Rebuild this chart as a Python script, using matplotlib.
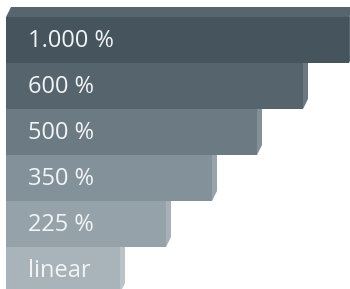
import matplotlib.pyplot as plt
from matplotlib.patches import Polygon

# bar labels, top to bottom
labels = ['1.000 %', '600 %', '500 %', '350 %', '225 %', 'linear']
# bar lengths as drawn (front face, in chart units)
lengths = [343, 297, 251, 206, 160, 114]
front_cols = ['#46545e', '#56646e', '#6c7a83', '#83929a', '#95a2aa', '#a8b3ba']
side_cols = ['#57656f', '#6b7880', '#849098', '#97a3aa', '#a6b0b6', '#bac3c8']

x0 = 6        # left edge of the bars
h = 46        # bar height
top0 = 17     # top of first bar
dx, dy = 5, 10  # depth of the 3D extrusion

fig = plt.figure(figsize=(3.5, 2.89), dpi=100)
ax = fig.add_axes([0, 0, 1, 1])
ax.set_xlim(0, 350)
ax.set_ylim(289, 0)
ax.axis('off')

tops = [top0 + i * h for i in range(len(lengths))]
n = len(lengths)
for i, (lab, L, fc, sc, t) in enumerate(zip(labels, lengths, front_cols, side_cols, tops)):
    z = 10 + (n - i) * 3
    right = x0 + L
    ax.barh(t + h / 2, L, height=h, left=x0, color=fc, zorder=z, linewidth=0)
    # right side face
    side = Polygon([(right, t), (right + dx, t - dy), (right + dx, t + h - dy), (right, t + h)],
                   closed=True, facecolor=sc, edgecolor='none', zorder=z - 1)
    ax.add_patch(side)
    if i == 0:
        topface = Polygon([(x0, t), (x0 + dx, t - dy), (right + dx, t - dy), (right, t)],
                          closed=True, facecolor=sc, edgecolor='none', zorder=z - 1)
        ax.add_patch(topface)
    ax.text(x0 + 22, t + h / 2 + 1, lab, color='#f2f4f5', fontsize=17,
            family='Open Sans', va='center', ha='left', zorder=z + 1)

fig.savefig('out.png', dpi=100)
